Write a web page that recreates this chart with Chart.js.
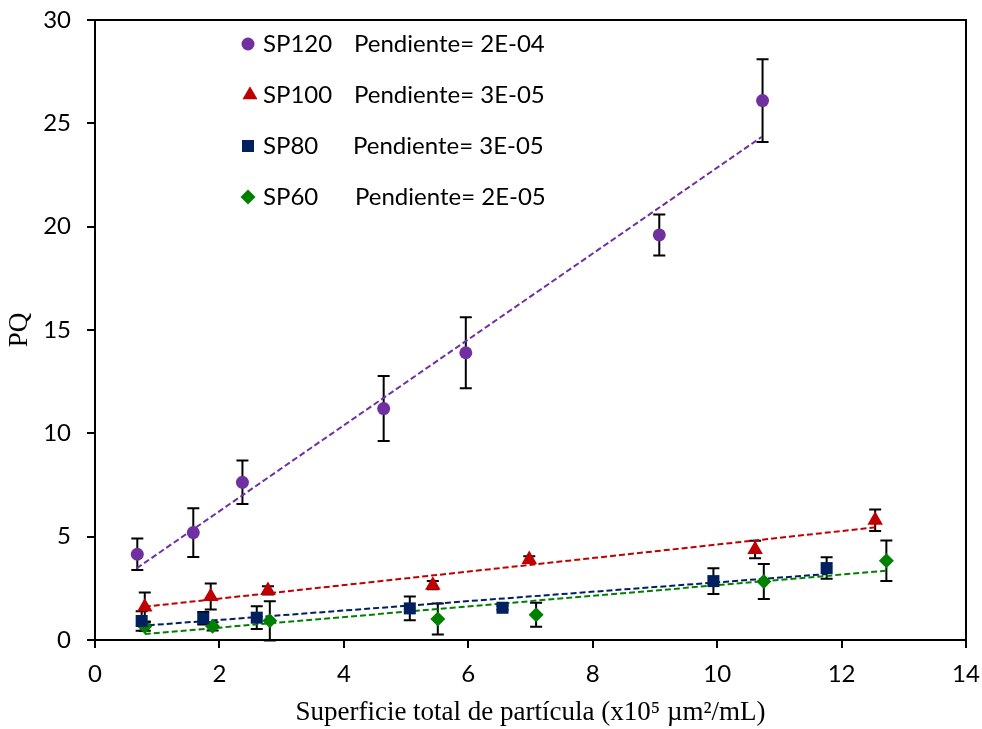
<!DOCTYPE html>
<html>
<head>
<meta charset="utf-8">
<script src="https://cdn.jsdelivr.net/npm/chart.js@4.4.0/dist/chart.umd.min.js"></script>
<style>
  html, body { margin: 0; padding: 0; background: #fff; }
  #wrap { width: 982px; height: 729px; }
</style>
</head>
<body>
<div id="wrap"><canvas id="chart" width="982" height="729"></canvas></div>
<script>
// DATA
const seriesNames = ["SP120", "SP100", "SP80", "SP60"];
const slopeLabels = ["Pendiente= 2E-04", "Pendiente= 3E-05", "Pendiente= 3E-05", "Pendiente= 2E-05"];

const sp120X = [0.68, 1.58, 2.37, 4.64, 5.96, 9.07, 10.73];
const sp120Y = [4.15, 5.2, 7.63, 11.2, 13.9, 19.6, 26.1];
const sp120Err = [0.76, 1.18, 1.05, 1.57, 1.72, 0.99, 2.0];

const sp100X = [0.80, 1.86, 2.78, 5.43, 6.98, 10.61, 12.54];
const sp100Y = [1.6, 2.1, 2.4, 2.65, 3.9, 4.38, 5.8];
const sp100Err = [0.7, 0.63, 0.2, 0.2, 0.15, 0.42, 0.52];

const sp80X = [0.75, 1.74, 2.6, 5.06, 6.55, 9.94, 11.76];
const sp80Y = [0.92, 1.05, 1.08, 1.53, 1.56, 2.85, 3.48];
const sp80Err = [0.47, 0.3, 0.55, 0.57, 0.1, 0.62, 0.52];

const sp60X = [0.80, 1.89, 2.81, 5.51, 7.09, 10.75, 12.72];
const sp60Y = [0.65, 0.66, 0.93, 1.02, 1.22, 2.83, 3.83];
const sp60Err = [0.2, 0.2, 0.95, 0.75, 0.58, 0.85, 0.98];

// trendline ends as drawn in the figure
const trend120X = [0.67, 10.72], trend120Y = [3.47, 24.35];
const trend100X = [0.80, 12.54], trend100Y = [1.61, 5.45];
const trend80X = [0.72, 11.76], trend80Y = [0.68, 3.19];
const trend60X = [0.80, 12.72], trend60Y = [0.29, 3.35];

const xTicksMax = 14;
const yTicksMax = 30;

// STYLE
const colors = ["#7030A0", "#C00000", "#002060", "#008000"];
const styles = ["circle", "triangle", "rect", "rectRot"];
const radii = [6.5, 9, 8.5, 7.5];
const tickFont = { family: "Lato", size: 24 };
const titleFont = { family: "Liberation Serif", size: 27, lineHeight: 1 };

function pts(xs, ys) {
    return xs.map((x, i) => ({ x: x, y: ys[i] }));
}

const pointSets = [
    pts(sp120X, sp120Y), pts(sp100X, sp100Y), pts(sp80X, sp80Y), pts(sp60X, sp60Y)
];
const errSets = [sp120Err, sp100Err, sp80Err, sp60Err];
const trendSets = [
    pts(trend120X, trend120Y), pts(trend100X, trend100Y),
    pts(trend80X, trend80Y), pts(trend60X, trend60Y)
];

const datasets = [];
seriesNames.forEach((name, i) => {
    datasets.push({
        type: "scatter",
        label: name,
        data: pointSets[i],
        errors: errSets[i],
        backgroundColor: colors[i],
        borderColor: colors[i],
        borderWidth: 0,
        pointStyle: styles[i],
        pointRadius: radii[i],
        pointHoverRadius: radii[i],
        order: 0
    });
});
seriesNames.forEach((name, i) => {
    datasets.push({
        type: "line",
        label: name + " trend",
        data: trendSets[i],
        borderColor: colors[i],
        borderWidth: 2,
        borderDash: [6, 3],
        pointRadius: 0,
        fill: false,
        order: 1
    });
});

// error bars, under the markers
const errorBars = {
    id: "errorBars",
    beforeDatasetsDraw(chart) {
        const { ctx, scales: { x, y } } = chart;
        ctx.save();
        ctx.strokeStyle = "#000";
        ctx.lineWidth = 2;
        chart.data.datasets.forEach((ds) => {
            if (!ds.errors) return;
            ds.data.forEach((p, i) => {
                const px = x.getPixelForValue(p.x);
                const top = y.getPixelForValue(p.y + ds.errors[i]);
                const bot = y.getPixelForValue(p.y - ds.errors[i]);
                ctx.beginPath();
                ctx.moveTo(px, top); ctx.lineTo(px, bot);
                ctx.moveTo(px - 6, top); ctx.lineTo(px + 6, top);
                ctx.moveTo(px - 6, bot); ctx.lineTo(px + 6, bot);
                ctx.stroke();
            });
        });
        ctx.restore();
    }
};

// box round the plot area + legend with slopes
const frameAndLegend = {
    id: "frameAndLegend",
    afterDraw(chart) {
        const { ctx, chartArea: a } = chart;
        ctx.save();
        ctx.strokeStyle = "#000";
        ctx.lineWidth = 2;
        ctx.strokeRect(a.left, a.top, a.right - a.left, a.bottom - a.top);

        const rowY = [44, 95, 146, 197];
        const markX = [248, 250, 248, 248];
        const markR = [6.5, 8.7, 8.5, 7.5];
        const slopeX = [354, 354, 353, 355];
        ctx.font = "24px Lato";
        ctx.textBaseline = "middle";
        seriesNames.forEach((name, i) => {
            ctx.fillStyle = colors[i];
            ctx.strokeStyle = colors[i];
            Chart.helpers.drawPoint(ctx, { pointStyle: styles[i], radius: markR[i], rotation: 0, borderWidth: 0 }, markX[i], rowY[i]);
            ctx.fillStyle = "#000";
            ctx.fillText(name, 263, rowY[i]);
            ctx.fillText(slopeLabels[i], slopeX[i], rowY[i]);
        });
        ctx.restore();
    }
};

// keep the plot box where the figure has it (labels may overhang)
function noOverhang(scale) {
    scale.paddingTop = 0;
    scale.paddingBottom = 0;
    scale.paddingLeft = 0;
    scale.paddingRight = 0;
}

new Chart(document.getElementById("chart"), {
    type: "scatter",
    data: { datasets: datasets },
    plugins: [errorBars, frameAndLegend],
    options: {
        responsive: false,
        animation: false,
        events: [],
        layout: { padding: { top: 20, right: 16, left: 0, bottom: 0 } },
        plugins: { legend: { display: false }, tooltip: { enabled: false } },
        scales: {
            x: {
                type: "linear",
                min: 0,
                max: xTicksMax,
                ticks: { stepSize: 2, color: "#000", font: tickFont, padding: 12 },
                grid: { drawOnChartArea: false, drawTicks: true, tickLength: 8, color: "#000", lineWidth: 2 },
                border: { display: true, color: "#000", width: 2 },
                title: {
                    display: true,
                    text: "Superficie total de partícula (x10\u2075 \u00b5m\u00b2/mL)",
                    color: "#000",
                    font: titleFont,
                    padding: { top: 0, bottom: 3 }
                },
                afterFit(scale) { scale.height = 89; noOverhang(scale); }
            },
            y: {
                type: "linear",
                min: 0,
                max: yTicksMax,
                ticks: { stepSize: 5, color: "#000", font: tickFont, padding: 16 },
                grid: { drawOnChartArea: false, drawTicks: true, tickLength: 8, color: "#000", lineWidth: 2 },
                border: { display: true, color: "#000", width: 2 },
                title: {
                    display: true,
                    text: "PQ",
                    color: "#000",
                    font: titleFont,
                    padding: { top: 6, bottom: 0 }
                },
                afterFit(scale) { scale.width = 95; noOverhang(scale); }
            }
        }
    }
});
</script>
</body>
</html>
